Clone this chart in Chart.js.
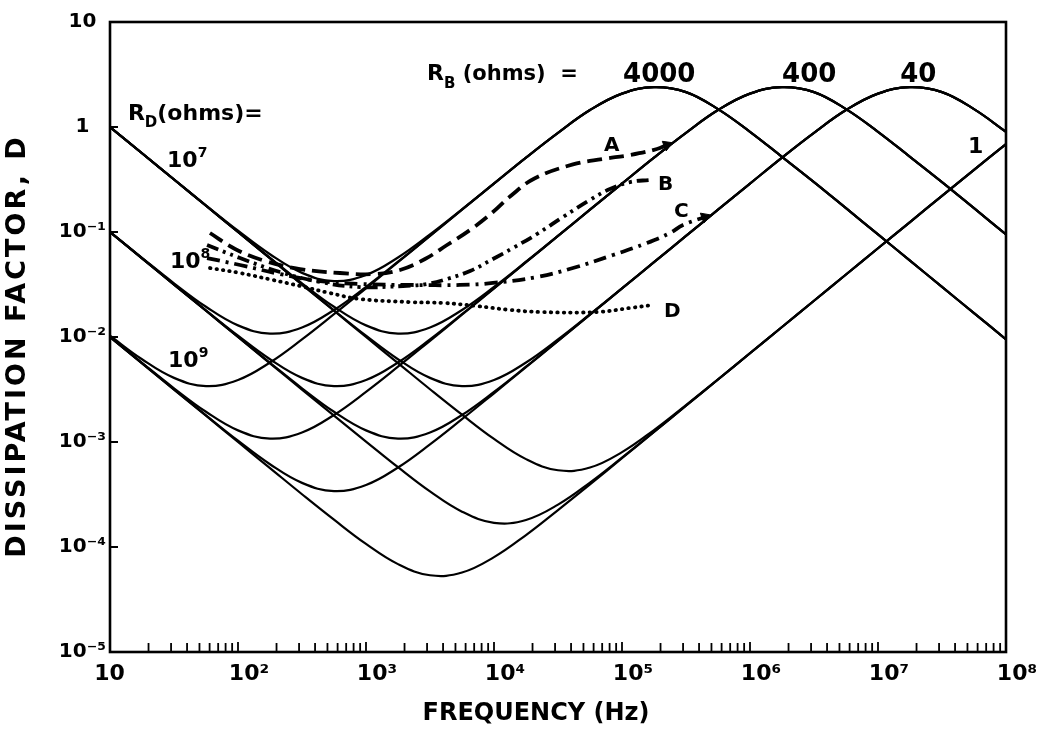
<!DOCTYPE html>
<html>
<head>
<meta charset="utf-8">
<title>Dissipation factor vs frequency</title>
<script src="https://cdn.jsdelivr.net/npm/chart.js@4.4.1/dist/chart.umd.min.js"></script>
<style>
html,body{margin:0;padding:0;background:#ffffff;overflow:hidden;}
canvas{display:block;}
</style>
</head>
<body>
<canvas id="chart" width="1041" height="729"></canvas>
<script>
// ---------------- data ----------------
const FREQ = [10, 17.78, 31.62, 56.23, 100, 177.8, 316.2, 562.3, 1000, 1778, 3162, 5623,
  10000, 17783, 31623, 56234, 100000, 177828, 316228, 562341, 1000000, 1778279, 3162278,
  5623413, 10000000, 17782794, 31622777, 56234133, 100000000];

// R_D = 10^7 ohms
const D_RD7_RB4000 = [1.000, 0.563, 0.317, 0.1795, 0.1029, 0.0614, 0.0408, 0.0341, 0.0390, 0.0572, 0.0949, 0.1647, 0.290, 0.511, 0.880, 1.45, 2.08, 2.40, 2.15, 1.48, 0.90, 0.52, 0.299, 0.1686, 0.0948, 0.0534, 0.0300, 0.01689, 0.0095];
const D_RD7_RB400 = [1.000, 0.5623, 0.3163, 0.1779, 0.1003, 0.0568, 0.0325, 0.0194, 0.0129, 0.01078, 0.01233, 0.01809, 0.0300, 0.0521, 0.0920, 0.1631, 0.289, 0.511, 0.880, 1.45, 2.08, 2.40, 2.15, 1.48, 0.90, 0.52, 0.299, 0.1686, 0.0948];
const D_RD7_RB40 = [1.000, 0.5623, 0.3162, 0.1778, 0.1000, 0.0563, 0.0317, 0.01795, 0.01029, 0.00614, 0.00408, 0.00341, 0.00390, 0.00572, 0.00949, 0.01649, 0.0291, 0.0516, 0.0917, 0.163, 0.289, 0.511, 0.880, 1.45, 2.08, 2.40, 2.15, 1.48, 0.90];
const D_RD7_RB1 = [1.000, 0.5623, 0.3162, 0.1778, 0.1000, 0.0562, 0.0316, 0.01778, 0.01000, 0.00564, 0.00318, 0.00182, 0.00107, 0.000687, 0.000538, 0.000571, 0.000800, 0.00130, 0.00225, 0.00395, 0.00701, 0.01245, 0.02214, 0.03937, 0.0700, 0.1244, 0.2210, 0.3914, 0.6875];
// R_D = 10^8 ohms
const D_RD8_RB4000 = [0.1003, 0.0568, 0.0325, 0.0194, 0.0129, 0.01078, 0.01233, 0.01809, 0.0300, 0.0521, 0.0920, 0.1631, 0.289, 0.511, 0.880, 1.45, 2.08, 2.40, 2.15, 1.48, 0.90, 0.52, 0.299, 0.1686, 0.0948, 0.0534, 0.0300, 0.01689, 0.0095];
const D_RD8_RB400 = [0.1000, 0.0563, 0.0317, 0.01795, 0.01029, 0.00614, 0.00408, 0.00341, 0.00390, 0.00572, 0.00949, 0.01649, 0.0291, 0.0516, 0.0917, 0.163, 0.289, 0.511, 0.880, 1.45, 2.08, 2.40, 2.15, 1.48, 0.90, 0.52, 0.299, 0.1686, 0.0948];
const D_RD8_RB40 = [0.1000, 0.0562, 0.0316, 0.01779, 0.01003, 0.00568, 0.00325, 0.00194, 0.00129, 0.001078, 0.001233, 0.001809, 0.00300, 0.00521, 0.00920, 0.01632, 0.0290, 0.0516, 0.0917, 0.163, 0.289, 0.511, 0.880, 1.45, 2.08, 2.40, 2.15, 1.48, 0.90];
const D_RD8_RB1 = [0.1000, 0.0562, 0.0316, 0.01778, 0.0100, 0.00562, 0.00316, 0.00178, 0.00101, 0.000575, 0.000338, 0.000217, 0.000170, 0.000181, 0.000253, 0.000411, 0.000710, 0.00125, 0.002216, 0.003937, 0.00700, 0.01245, 0.02214, 0.03937, 0.0700, 0.1244, 0.2210, 0.3914, 0.6875];
// R_D = 10^9 ohms
const D_RD9_RB4000 = [0.01029, 0.00614, 0.00408, 0.00341, 0.00390, 0.00572, 0.00949, 0.01649, 0.0291, 0.0516, 0.0917, 0.163, 0.289, 0.511, 0.880, 1.45, 2.08, 2.40, 2.15, 1.48, 0.90, 0.52, 0.299, 0.1686, 0.0948, 0.0534, 0.0300, 0.01689, 0.0095];
const D_RD9_RB400 = [0.01003, 0.00568, 0.00325, 0.00194, 0.00129, 0.001078, 0.001233, 0.001809, 0.00300, 0.00521, 0.00920, 0.0163, 0.0290, 0.0516, 0.0917, 0.163, 0.289, 0.511, 0.880, 1.45, 2.08, 2.40, 2.15, 1.48, 0.90, 0.52, 0.299, 0.1686, 0.0948];
const D_RD9_RB40 = [0.0100, 0.00563, 0.00317, 0.001795, 0.001029, 0.000614, 0.000408, 0.000341, 0.000390, 0.000572, 0.000949, 0.001649, 0.00291, 0.00516, 0.00917, 0.01631, 0.0290, 0.0516, 0.0917, 0.163, 0.289, 0.511, 0.880, 1.45, 2.08, 2.40, 2.15, 1.48, 0.90];
const D_RD9_RB1 = [0.0100, 0.00562, 0.00316, 0.00178, 0.00100, 0.000564, 0.000318, 0.000182, 0.000107, 0.0000687, 0.0000538, 0.0000571, 0.0000800, 0.000130, 0.000225, 0.000395, 0.000701, 0.001245, 0.002214, 0.003937, 0.00700, 0.01245, 0.02214, 0.03937, 0.0700, 0.1244, 0.2210, 0.3914, 0.6875];

// measured samples A-D
const A_FREQ = [60.4, 94.8, 162.6, 305, 627, 1175, 1845, 2891, 4295, 6501, 9817, 13335, 20874, 41400, 71100, 115600, 187500, 224800];
const A_D = [0.0978, 0.0689, 0.0530, 0.0444, 0.0407, 0.0398, 0.0435, 0.0553, 0.0752, 0.1045, 0.155, 0.218, 0.325, 0.440, 0.496, 0.541, 0.617, 0.674];
const B_FREQ = [57.3, 103.7, 212.8, 437.5, 898, 1945, 2999, 4295, 6501, 9817, 14060, 21680, 34600, 56230, 80580, 115600, 165500];
const B_D = [0.0752, 0.0565, 0.0416, 0.0334, 0.0299, 0.0306, 0.0320, 0.0357, 0.0425, 0.0553, 0.0704, 0.0957, 0.139, 0.202, 0.257, 0.299, 0.313];
const C_FREQ = [57.3, 103.7, 212.8, 437.5, 898, 2208, 5420, 9817, 21680, 41400, 85110, 156700, 237100, 299900, 444600];
const C_D = [0.0565, 0.0485, 0.0398, 0.0341, 0.0320, 0.0313, 0.0313, 0.0327, 0.0373, 0.0454, 0.0604, 0.0785, 0.0978, 0.1167, 0.139];
const D_FREQ = [60.4, 103.7, 187.5, 305, 523, 898, 2208, 4000, 7362, 13335, 22860, 63830, 115600, 174600];
const D_D = [0.0454, 0.0407, 0.0349, 0.0306, 0.0262, 0.0230, 0.0215, 0.0211, 0.0197, 0.0181, 0.0173, 0.0173, 0.0189, 0.0202];

const XTICKS = [10, 100, 1e3, 1e4, 1e5, 1e6, 1e7, 1e8];
const XTICK_LABELS = ['10\u2007 ', '10²', '10³', '10⁴', '10⁵', '10⁶', '10⁷', '10⁸'];
const YTICKS = [1e-5, 1e-4, 1e-3, 1e-2, 1e-1, 1, 10];
const YTICK_LABELS = ['10⁻⁵', '10⁻⁴', '10⁻³', '10⁻²', '10⁻¹', '1', '10'];

// ---------------- presentation ----------------
const FONT = '"DejaVu Sans", "Liberation Sans", sans-serif';

const SOLID_SERIES = [
  ['R_D=1e7, R_B=4000', D_RD7_RB4000], ['R_D=1e7, R_B=400', D_RD7_RB400],
  ['R_D=1e7, R_B=40', D_RD7_RB40], ['R_D=1e7, R_B=1', D_RD7_RB1],
  ['R_D=1e8, R_B=4000', D_RD8_RB4000], ['R_D=1e8, R_B=400', D_RD8_RB400],
  ['R_D=1e8, R_B=40', D_RD8_RB40], ['R_D=1e8, R_B=1', D_RD8_RB1],
  ['R_D=1e9, R_B=4000', D_RD9_RB4000], ['R_D=1e9, R_B=400', D_RD9_RB400],
  ['R_D=1e9, R_B=40', D_RD9_RB40], ['R_D=1e9, R_B=1', D_RD9_RB1]
];

const datasets = SOLID_SERIES.map(([label, vals]) => ({
  label,
  data: FREQ.map((f, i) => ({x: f, y: vals[i]})),
  borderColor: '#000', borderWidth: 2.2, pointRadius: 0, fill: false,
  tension: 0.4
}));

function measured(label, fr, vals, dash, cap, arrowRot) {
  const last = fr.length - 1;
  return {
    label,
    data: fr.map((f, i) => ({x: f, y: vals[i]})),
    borderColor: '#000', borderWidth: 3.8, borderDash: dash, borderCapStyle: cap,
    fill: false, tension: 0.4,
    pointStyle: 'triangle',
    pointRadius: c => (arrowRot !== null && c.dataIndex === last) ? 6 : 0,
    pointRotation: arrowRot || 0,
    pointBackgroundColor: '#000', pointBorderColor: '#000', pointBorderWidth: 1
  };
}
datasets.push(measured('A', A_FREQ, A_D, [15, 7], 'butt', 68));
datasets.push(measured('B', B_FREQ, B_D, [12, 5, 3, 5, 3, 5], 'butt', null));
datasets.push(measured('C', C_FREQ, C_D, [13, 6, 3, 6], 'butt', 70));
datasets.push(measured('D', D_FREQ, D_D, [0.5, 6], 'round', null));

// text annotations placed in data coordinates
const TEXT_LABELS = [
  {f: 13.8, d: 1.166, parts: [['R', 22], ['D', 15, 7], ['(ohms)=', 22]]},
  {f: 27.9, d: 0.416, parts: [['10', 22], ['7', 14, -10]]},
  {f: 29.4, d: 0.0454, parts: [['10', 22], ['8', 14, -10]]},
  {f: 28.4, d: 0.00518, parts: [['10', 22], ['9', 14, -10]]},
  {f: 3000, d: 2.81, parts: [['R', 22], ['B', 15, 8], [' (ohms)  =', 21]]},
  {f: 1.02e5, d: 2.68, parts: [['4000', 26]]},
  {f: 1.78e6, d: 2.68, parts: [['400', 26]]},
  {f: 1.49e7, d: 2.68, parts: [['40', 26]]},
  {f: 5.05e7, d: 0.565, parts: [['1', 22]]},
  {f: 7.23e4, d: 0.590, parts: [['A', 20]]},
  {f: 1.91e5, d: 0.251, parts: [['B', 20]]},
  {f: 2.55e5, d: 0.139, parts: [['C', 20]]},
  {f: 2.13e5, d: 0.0155, parts: [['D', 20]]}
];

const annotPlugin = {
  id: 'annot',
  afterDatasetsDraw(chart) {
    const {ctx, scales: {x, y}} = chart;
    ctx.save();
    ctx.fillStyle = '#000';
    ctx.textAlign = 'left';
    ctx.textBaseline = 'alphabetic';
    for (const L of TEXT_LABELS) {
      let px = x.getPixelForValue(L.f);
      const py = y.getPixelForValue(L.d);
      for (const [t, size, dy = 0] of L.parts) {
        ctx.font = `bold ${size}px ${FONT}`;
        ctx.fillText(t, px, py + dy);
        px += ctx.measureText(t).width;
      }
    }
    ctx.restore();
  }
};

const framePlugin = {
  id: 'frame',
  afterDraw(chart) {
    const {ctx, chartArea: a, scales: {x, y}} = chart;
    ctx.save();
    ctx.strokeStyle = '#000';
    ctx.lineWidth = 2.6;
    ctx.strokeRect(a.left, a.top, a.right - a.left, a.bottom - a.top);
    ctx.lineWidth = 1.8;
    ctx.beginPath();
    for (let k = 1; k < 8; k++) {
      for (let m = 2; m <= 10; m++) {
        const px = x.getPixelForValue(m * Math.pow(10, k));
        ctx.moveTo(px, a.bottom);
        ctx.lineTo(px, a.bottom - (m === 10 ? 10 : 9));
      }
    }
    for (const t of YTICKS) {
      const py = y.getPixelForValue(t);
      ctx.moveTo(a.left, py);
      ctx.lineTo(a.left + 8, py);
    }
    ctx.stroke();
    // axis titles
    ctx.fillStyle = '#000';
    ctx.textAlign = 'center';
    ctx.textBaseline = 'middle';
    ctx.font = `bold 24px ${FONT}`;
    ctx.fillText('FREQUENCY (Hz)', 536, 714);
    ctx.translate(18, 346);
    ctx.rotate(-Math.PI / 2);
    ctx.font = `bold 27px ${FONT}`;
    if ('letterSpacing' in ctx) ctx.letterSpacing = '3px';
    ctx.fillText('DISSIPATION FACTOR, D', 0, 0);
    ctx.restore();
  }
};

new Chart(document.getElementById('chart'), {
  type: 'line',
  data: {datasets},
  options: {
    responsive: false,
    devicePixelRatio: 1,
    animation: false,
    layout: {padding: {top: 22, right: 35, left: 0, bottom: 0}},
    plugins: {legend: {display: false}, tooltip: {enabled: false}},
    scales: {
      x: {
        type: 'logarithmic', position: 'bottom', min: 10, max: 1e8,
        afterBuildTicks: s => { s.ticks = XTICKS.map(v => ({value: v})); },
        afterFit: s => { s.height = 77; },
        grid: {display: false, drawTicks: false},
        border: {display: false},
        ticks: {
          autoSkip: false, maxRotation: 0, minRotation: 0, padding: 9, labelOffset: 11,
          color: '#000', font: {family: FONT, size: 22, weight: 'bold'},
          callback: (v, i) => XTICK_LABELS[i]
        }
      },
      y: {
        type: 'logarithmic', position: 'left', min: 1e-5, max: 10,
        afterBuildTicks: s => { s.ticks = YTICKS.map(v => ({value: v})); },
        afterFit: s => { s.width = 110; },
        grid: {display: false, drawTicks: false},
        border: {display: false},
        ticks: {
          autoSkip: false, padding: 4, crossAlign: 'center',
          color: '#000', font: {family: FONT, size: 20, weight: 'bold'},
          callback: (v, i) => YTICK_LABELS[i]
        }
      }
    }
  },
  plugins: [annotPlugin, framePlugin]
});
</script>
</body>
</html>
